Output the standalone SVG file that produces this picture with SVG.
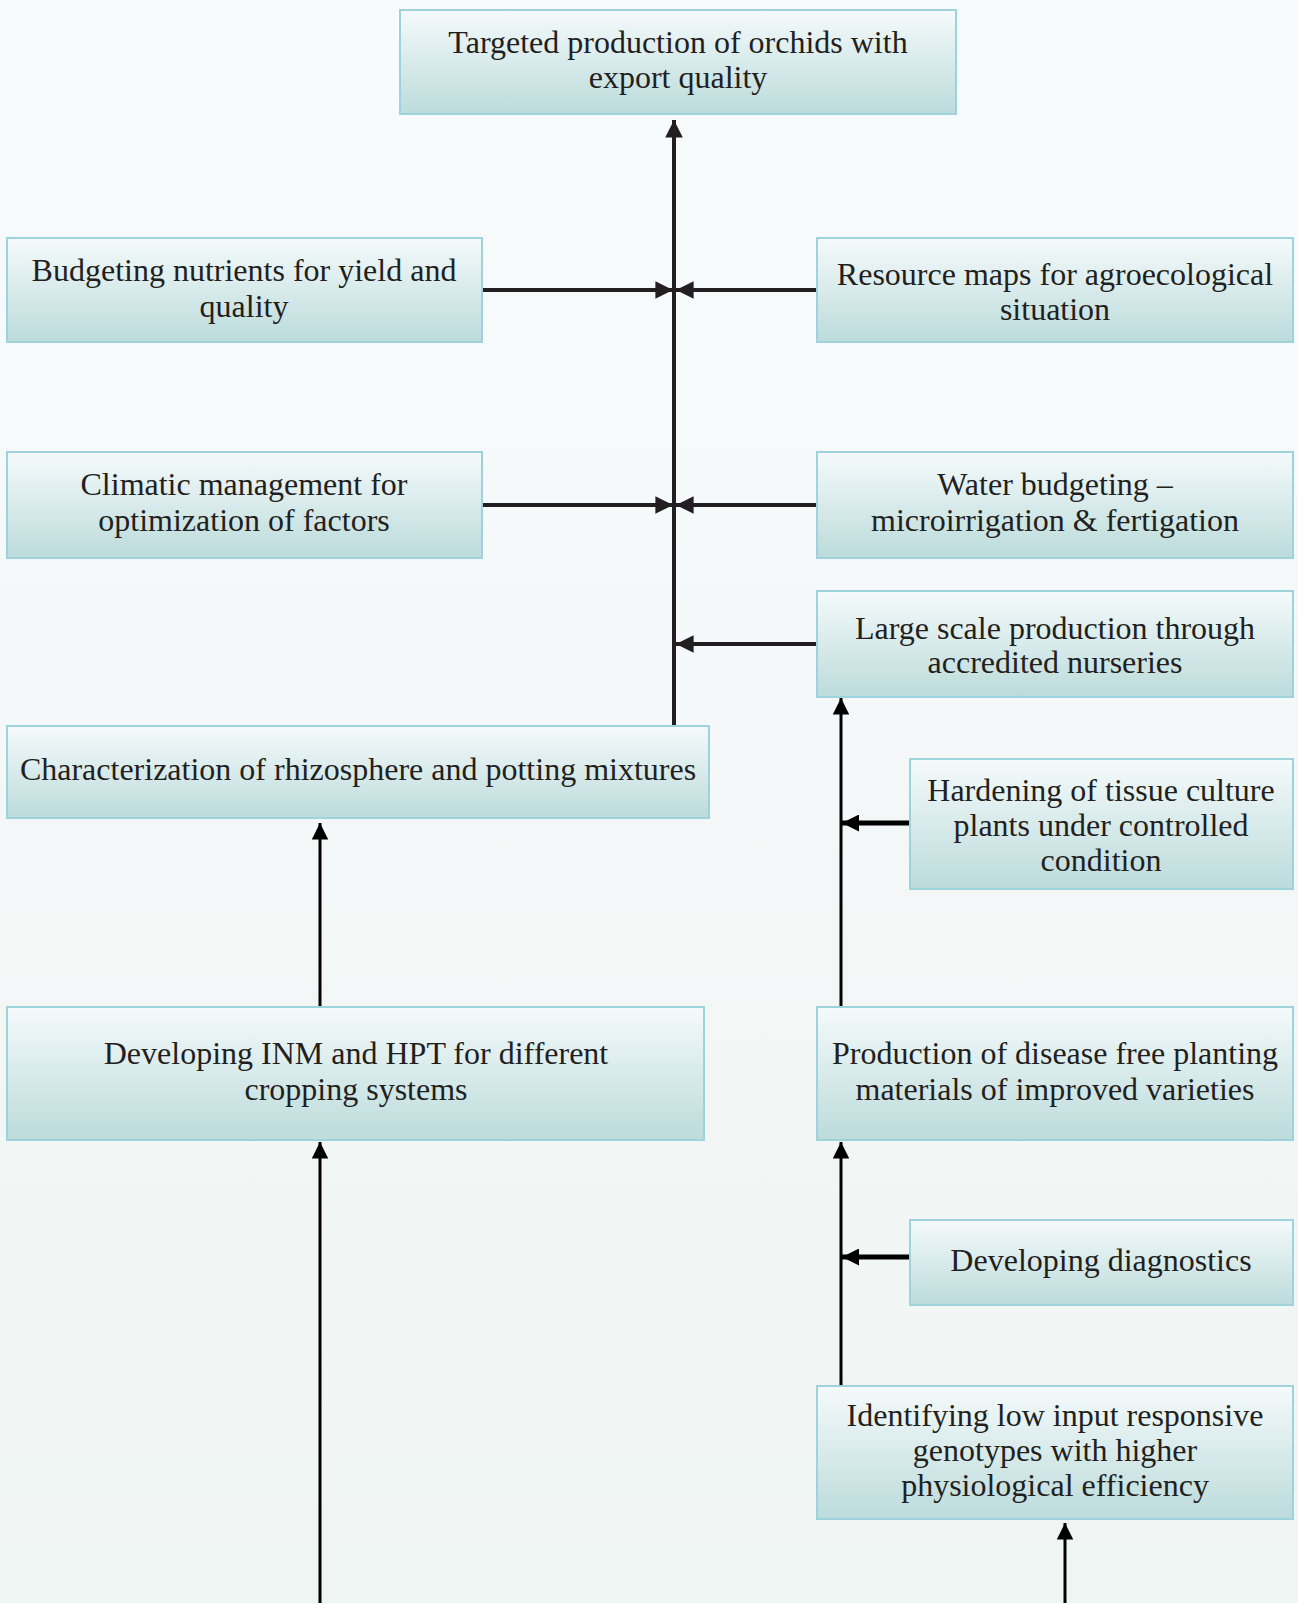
<svg xmlns="http://www.w3.org/2000/svg" width="1298" height="1603" viewBox="0 0 1298 1603">
  <defs>
    <linearGradient id="bg" x1="0" y1="0" x2="0" y2="1">
      <stop offset="0" stop-color="#f8fbfc"/>
      <stop offset="1" stop-color="#eff5f3"/>
    </linearGradient>
    <linearGradient id="boxfill" x1="0" y1="0" x2="0" y2="1">
      <stop offset="0" stop-color="#f5fafb"/>
      <stop offset="1" stop-color="#bcdbdb"/>
    </linearGradient>
    <marker id="ah" viewBox="0 0 10 10" refX="10" refY="5" markerWidth="4.4" markerHeight="4.4" orient="auto" markerUnits="strokeWidth">
      <path d="M0,0 L10,5 L0,10 Z" fill="#231f20"/>
    </marker>
    <marker id="ahs" viewBox="0 0 10 10" refX="10" refY="5" markerWidth="5.5" markerHeight="5.5" orient="auto" markerUnits="strokeWidth">
      <path d="M0,0 L10,5 L0,10 Z" fill="#000"/>
    </marker>
    <marker id="ahh" viewBox="0 0 10 10" refX="10" refY="5" markerWidth="3.4" markerHeight="3.4" orient="auto" markerUnits="strokeWidth">
      <path d="M0,0 L10,5 L0,10 Z" fill="#000"/>
    </marker>
  </defs>
  <style>
    .box { fill: url(#boxfill); stroke: #9ed2dc; stroke-width: 2; }
    .lbl { font-family: "Liberation Serif", "Times New Roman", serif; font-size: 32px; fill: #231f20; text-anchor: middle; }
    .c { fill: none; stroke: #231f20; stroke-width: 4; }
    .t { fill: none; stroke: #000; stroke-width: 3; }
    .h { fill: none; stroke: #000; stroke-width: 5; }
  </style>

  <rect width="1298" height="1603" fill="url(#bg)"/>

  <g id="connectors">
    <!-- main trunk into the top goal -->
    <path class="c" d="M674,726 V120" marker-end="url(#ah)"/>
    <path class="c" d="M482,290 H673" marker-end="url(#ah)"/>
    <path class="c" d="M817,290 H676" marker-end="url(#ah)"/>
    <path class="c" d="M482,505 H673" marker-end="url(#ah)"/>
    <path class="c" d="M817,505 H676" marker-end="url(#ah)"/>
    <path class="c" d="M817,644 H676" marker-end="url(#ah)"/>
    <!-- left column -->
    <path class="t" d="M320,1007 V823" marker-end="url(#ahs)"/>
    <path class="t" d="M320,1603 V1142" marker-end="url(#ahs)"/>
    <!-- right column -->
    <path class="t" d="M841,1007 V698" marker-end="url(#ahs)"/>
    <path class="h" d="M910,823 H842" marker-end="url(#ahh)"/>
    <path class="t" d="M841,1386 V1142" marker-end="url(#ahs)"/>
    <path class="h" d="M910,1257 H842" marker-end="url(#ahh)"/>
    <path class="t" d="M1065,1603 V1523" marker-end="url(#ahs)"/>
  </g>

  <g id="goal">
    <rect class="box" x="400" y="10" width="556" height="104"/>
    <text class="lbl" x="678" y="53">Targeted production of orchids with</text>
    <text class="lbl" x="678" y="88">export quality</text>
  </g>

  <g id="budgeting-nutrients">
    <rect class="box" x="7" y="238" width="475" height="104"/>
    <text class="lbl" x="244" y="281">Budgeting nutrients for yield and</text>
    <text class="lbl" x="244" y="317">quality</text>
  </g>

  <g id="resource-maps">
    <rect class="box" x="817" y="238" width="476" height="104"/>
    <text class="lbl" x="1055" y="285">Resource maps for agroecological</text>
    <text class="lbl" x="1055" y="320">situation</text>
  </g>

  <g id="climatic-management">
    <rect class="box" x="7" y="452" width="475" height="106"/>
    <text class="lbl" x="244" y="495">Climatic management for</text>
    <text class="lbl" x="244" y="531">optimization of factors</text>
  </g>

  <g id="water-budgeting">
    <rect class="box" x="817" y="452" width="476" height="106"/>
    <text class="lbl" x="1055" y="495">Water budgeting –</text>
    <text class="lbl" x="1055" y="531">microirrigation &amp; fertigation</text>
  </g>

  <g id="large-scale-production">
    <rect class="box" x="817" y="591" width="476" height="106"/>
    <text class="lbl" x="1055" y="639">Large scale production through</text>
    <text class="lbl" x="1055" y="673">accredited nurseries</text>
  </g>

  <g id="rhizosphere">
    <rect class="box" x="7" y="726" width="702" height="92"/>
    <text class="lbl" x="358" y="780">Characterization of rhizosphere and potting mixtures</text>
  </g>

  <g id="hardening">
    <rect class="box" x="910" y="759" width="383" height="130"/>
    <text class="lbl" x="1101" y="801">Hardening of tissue culture</text>
    <text class="lbl" x="1101" y="836">plants under controlled</text>
    <text class="lbl" x="1101" y="871">condition</text>
  </g>

  <g id="inm-hpt">
    <rect class="box" x="7" y="1007" width="697" height="133"/>
    <text class="lbl" x="356" y="1064">Developing INM and HPT for different</text>
    <text class="lbl" x="356" y="1100">cropping systems</text>
  </g>

  <g id="disease-free-material">
    <rect class="box" x="817" y="1007" width="476" height="133"/>
    <text class="lbl" x="1055" y="1064">Production of disease free planting</text>
    <text class="lbl" x="1055" y="1100">materials of improved varieties</text>
  </g>

  <g id="diagnostics">
    <rect class="box" x="910" y="1220" width="383" height="85"/>
    <text class="lbl" x="1101" y="1271">Developing diagnostics</text>
  </g>

  <g id="low-input-genotypes">
    <rect class="box" x="817" y="1386" width="476" height="133"/>
    <text class="lbl" x="1055" y="1426">Identifying low input responsive</text>
    <text class="lbl" x="1055" y="1461">genotypes with higher</text>
    <text class="lbl" x="1055" y="1496">physiological efficiency</text>
  </g>
</svg>
